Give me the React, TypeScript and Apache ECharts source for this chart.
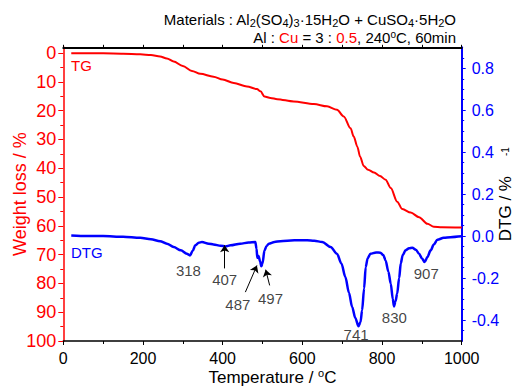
import React, { useEffect, useRef } from "react";
import * as echarts from "echarts";

const FONT = "'Liberation Sans', Arial, sans-serif";
const RED = "#FF0000";
const BLUE = "#0000FF";

// TG curve: temperature (°C) and weight loss (%)
const tgTemp = [20, 100, 150, 193, 220, 243, 260, 277, 300, 323, 344, 377, 400, 428, 461, 486, 495, 505, 520, 537, 578, 629, 662, 687, 704, 721, 729, 738, 745, 754, 765, 780, 795, 809, 822, 838, 851, 872, 893, 914, 930, 950, 1000];
const tgWeight = [0.1, 0.1, 0.2, 0.4, 0.7, 1.2, 1.9, 2.9, 4.5, 6.2, 7.2, 8.2, 9.2, 10.4, 11.6, 12.5, 13.3, 15.1, 15.6, 16.0, 16.8, 17.7, 18.5, 19.7, 22.0, 26.1, 29.0, 32.5, 36.0, 39.2, 40.5, 41.5, 42.7, 44.0, 46.9, 51.6, 54.2, 55.4, 57.0, 59.3, 60.3, 60.5, 60.6];

// DTG curve: temperature (°C) and DTG (%/°C)
const dtgTemp = [20, 60, 100, 150, 193, 220, 243, 260, 277, 295, 310, 318, 325, 331, 340, 348, 365, 377, 395, 407, 420, 444, 465, 482, 485, 487, 490, 494, 497, 500, 505, 510, 516, 530, 545, 580, 612, 630, 650, 671, 687, 698, 708, 717, 725, 733, 741, 746, 750, 755, 759, 764, 771, 785, 796, 803, 809, 816, 822, 827, 830, 834, 838, 843, 847, 852, 859, 868, 876, 885, 893, 900, 907, 914, 922, 930, 939, 955, 972, 1000];
const dtgValue = [0.003, 0.0, 0.0, -0.003, -0.008, -0.015, -0.024, -0.036, -0.052, -0.068, -0.084, -0.092, -0.07, -0.044, -0.032, -0.028, -0.036, -0.04, -0.046, -0.049, -0.044, -0.036, -0.031, -0.028, -0.06, -0.103, -0.095, -0.12, -0.144, -0.13, -0.068, -0.048, -0.036, -0.028, -0.024, -0.02, -0.02, -0.022, -0.028, -0.052, -0.084, -0.13, -0.195, -0.27, -0.338, -0.39, -0.43, -0.41, -0.354, -0.25, -0.148, -0.105, -0.084, -0.078, -0.079, -0.09, -0.116, -0.17, -0.227, -0.3, -0.335, -0.31, -0.274, -0.2, -0.131, -0.09, -0.068, -0.058, -0.055, -0.065, -0.084, -0.105, -0.124, -0.1, -0.068, -0.04, -0.017, -0.008, -0.005, -0.001];

// Peak annotations (label text, label anchor position in data coords)
const peakNames = ["318", "407", "487", "497", "741", "830", "907"];
const peakLabelT = [314, 405, 438, 520, 735, 831, 911];
const peakLabelD = [-0.163, -0.206, -0.325, -0.298, -0.468, -0.387, -0.176];

// Arrows (from -> to in data coords)
const arrowFromT = [405, 457, 518];
const arrowFromD = [-0.154, -0.267, -0.235];
const arrowToT = [405, 486, 508];
const arrowToD = [-0.044, -0.14, -0.16];

const weightTicks = [0, 10, 20, 30, 40, 50, 60, 70, 80, 90, 100];
const dtgTicks = [-0.4, -0.2, 0, 0.2, 0.4, 0.6, 0.8];

export default function App() {
  const ref = useRef<HTMLDivElement>(null);

  useEffect(() => {
    const chart = echarts.init(ref.current!, null, { renderer: "svg" });

    const option: any = {
      animation: false,
      backgroundColor: "#fff",
      textStyle: { fontFamily: FONT },
      grid: { left: 63.3, right: 55.3, top: 47.3, bottom: 45, containLabel: false, outerBoundsMode: "none" },
      xAxis: [
        {
          type: "value",
          position: "bottom",
          min: 0,
          max: 1000,
          interval: 200,
          name: "Temperature / {sup|o}C",
          nameLocation: "middle",
          nameGap: 26,
          nameMoveOverlap: false,
          nameTextStyle: {
            fontSize: 17,
            color: "#000",
            lineHeight: 20,
            padding: [0, 0, 0, 20],
            rich: { sup: { fontSize: 11, lineHeight: 12, verticalAlign: "top", color: "#000" } },
          },
          axisLine: { show: true, onZero: false, lineStyle: { color: "#000", width: 1.5 } },
          axisTick: { show: true, length: 4, lineStyle: { color: "#000", width: 1 } },
          minorTick: { show: true, splitNumber: 2, length: 3, lineStyle: { color: "#000", width: 1 } },
          axisLabel: { fontSize: 16, color: "#000", margin: 9, formatter: (v: number) => String(v) },
          splitLine: { show: false },
          minorSplitLine: { show: false },
        },
        {
          type: "value",
          position: "top",
          min: 0,
          max: 1000,
          interval: 100,
          axisLine: { show: true, onZero: false, lineStyle: { color: "#000", width: 2 } },
          axisTick: { show: true, length: 2.5, lineStyle: { color: "#000", width: 1 } },
          axisLabel: { show: false },
          splitLine: { show: false },
        },
      ],
      yAxis: [
        {
          type: "value",
          position: "left",
          min: -2,
          max: 100,
          inverse: true,
          splitNumber: 10,
          name: "Weight loss / %",
          nameLocation: "middle",
          nameGap: 34,
          nameMoveOverlap: false,
          nameTextStyle: { fontSize: 18, color: RED },
          axisLine: { show: true, onZero: false, lineStyle: { color: RED, width: 1.5 } },
          axisTick: { show: true, length: 5, customValues: weightTicks, lineStyle: { color: RED, width: 1 } },
          minorTick: { show: true, splitNumber: 2, length: 3, lineStyle: { color: RED, width: 1 } },
          axisLabel: { customValues: weightTicks, fontSize: 18, color: RED, margin: 7 },
          splitLine: { show: false },
          minorSplitLine: { show: false },
        },
        {
          type: "value",
          position: "right",
          min: -0.5,
          max: 0.9,
          splitNumber: 7,
          name: "DTG / %{gap| }{sup|-1}",
          nameLocation: "middle",
          nameGap: 35,
          nameMoveOverlap: false,
          nameTextStyle: {
            fontSize: 17,
            color: "#000",
            rich: { gap: { width: 20 }, sup: { fontSize: 10, color: "#000" } },
          },
          axisLine: { show: true, onZero: false, lineStyle: { color: BLUE, width: 2 } },
          axisTick: { show: true, length: 4, customValues: dtgTicks, lineStyle: { color: BLUE, width: 1 } },
          minorTick: { show: true, splitNumber: 4, length: 2.5, lineStyle: { color: BLUE, width: 1 } },
          axisLabel: {
            customValues: dtgTicks,
            fontSize: 16,
            color: BLUE,
            margin: 10,
            formatter: (v: number) => v.toFixed(1),
          },
          splitLine: { show: false },
          minorSplitLine: { show: false },
        },
      ],
      series: [
        {
          name: "TG",
          type: "line",
          xAxisIndex: 0,
          yAxisIndex: 0,
          data: tgTemp.map((t, i) => [t, tgWeight[i]]),
          showSymbol: false,
          smooth: 0.3,
          smoothMonotone: "x",
          lineStyle: { color: RED, width: 2 },
          itemStyle: { color: RED },
          z: 3,
        },
        {
          name: "DTG",
          type: "line",
          xAxisIndex: 0,
          yAxisIndex: 1,
          data: dtgTemp.map((t, i) => [t, dtgValue[i]]),
          showSymbol: false,
          smooth: 0.3,
          smoothMonotone: "x",
          lineStyle: { color: BLUE, width: 2.5 },
          itemStyle: { color: BLUE },
          z: 3,
        },
        {
          name: "peaks",
          type: "scatter",
          xAxisIndex: 0,
          yAxisIndex: 1,
          symbol: "circle",
          symbolSize: 1,
          silent: true,
          itemStyle: { color: "rgba(0,0,0,0)" },
          data: peakNames.map((n, i) => ({ name: n, value: [peakLabelT[i], peakLabelD[i]] })),
          label: {
            show: true,
            position: "inside",
            formatter: "{b}",
            fontSize: 15,
            color: "#111",
            textBorderWidth: 0,
            fontFamily: FONT,
          },
          markLine: {
            silent: true,
            symbol: ["none", "arrow"],
            symbolSize: 7,
            label: { show: false },
            lineStyle: { color: "#000", width: 1, type: "solid" },
            data: arrowFromT.map((t, i) => [
              { coord: [t, arrowFromD[i]] },
              { coord: [arrowToT[i], arrowToD[i]] },
            ]),
          },
          z: 4,
        },
      ],
      graphic: [
        {
          type: "text",
          x: 456,
          y: 19,
          style: {
            text: "Materials : Al{sub|2}(SO{sub|4}){sub|3}·15H{sub|2}O + CuSO{sub|4}·5H{sub|2}O",
            fontSize: 15,
            fontFamily: FONT,
            fill: "#000",
            align: "right",
            verticalAlign: "middle",
            lineHeight: 18,
            rich: { sub: { fontSize: 11, lineHeight: 8, verticalAlign: "bottom", fill: "#000", fontFamily: FONT } },
          },
        },
        {
          type: "text",
          x: 456,
          y: 37,
          style: {
            text: "Al : {red|Cu} = 3 : {red|0.5}, 240{sup|o}C, 60min",
            fontSize: 15,
            fontFamily: FONT,
            fill: "#000",
            align: "right",
            verticalAlign: "middle",
            lineHeight: 16,
            rich: {
              red: { fill: RED, fontSize: 15, fontFamily: FONT },
              sup: { fontSize: 10, lineHeight: 11, verticalAlign: "top", fill: "#000", fontFamily: FONT },
            },
          },
        },
        {
          type: "text",
          x: 71,
          y: 65.5,
          style: { text: "TG", fontSize: 15, fontFamily: FONT, fill: RED, align: "left", verticalAlign: "middle" },
        },
        {
          type: "text",
          x: 71,
          y: 252.5,
          style: { text: "DTG", fontSize: 15, fontFamily: FONT, fill: BLUE, align: "left", verticalAlign: "middle" },
        },
      ],
    };

    chart.setOption(option);
    return () => chart.dispose();
  }, []);

  return (
    <div
      ref={ref}
      style={{ position: "fixed", left: 0, top: 0, width: 517, height: 386, background: "#fff" }}
    />
  );
}
